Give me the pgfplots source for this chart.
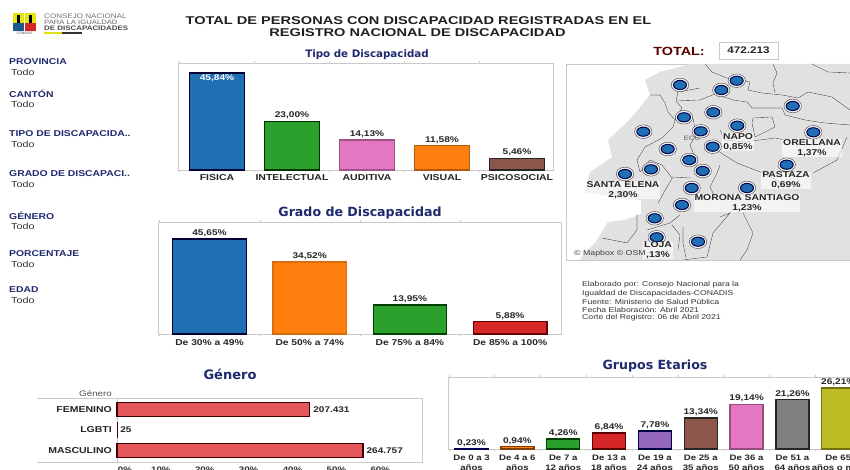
\documentclass[border=0pt]{standalone}
\usepackage{pgfplots}
\pgfplotsset{compat=1.18}
\usepackage{fontspec}
\setmainfont{Liberation Sans}
\newfontfamily\lab[FakeStretch=1.22]{Liberation Sans}
\newfontfamily\labw[FakeStretch=1.29]{Liberation Sans}
\newfontfamily\ttlf{DejaVu Sans}
\definecolor{navy}{HTML}{1F2A6E}
\definecolor{frameg}{HTML}{C9C9C9}
\definecolor{land}{HTML}{E1E1E1}
\definecolor{bord}{HTML}{5E5E5E}
\definecolor{cblue}{HTML}{1F6FB2}
\definecolor{cgreen}{HTML}{2CA02C}
\definecolor{cpink}{HTML}{E377C2}
\definecolor{corange}{HTML}{FF7F0E}
\definecolor{cbrown}{HTML}{8C564B}
\definecolor{cred}{HTML}{D62728}
\definecolor{cpurple}{HTML}{9467BD}
\definecolor{cgray}{HTML}{7F7F7F}
\definecolor{colive}{HTML}{BCBD22}
\definecolor{ebar}{HTML}{E4585C}
\newcommand\bl[1]{\addplot[white,line width=1.3pt,no marks] coordinates {#1};\addplot[bord,line width=.6pt,no marks] coordinates {#1};}
\pgfplotsset{
  panel/.style={scale only axis, anchor=south west, ymin=0, clip=false,
    ybar, bar shift=0pt,
    axis line style={draw=frameg,line width=.8pt},
    major tick length=0pt, minor tick length=2pt, tick align=outside,
    minor tick style={draw=frameg},
    xticklabel style={font=\lab\bfseries\fontsize{8.6}{10}\selectfont,text=black!85,yshift=-1pt},
    ytick=\empty,
    nodes near coords={\pgfmathprintnumber{\pgfplotspointmeta}\%},
    every node near coord/.append style={font=\lab\bfseries\fontsize{8.3}{9}\selectfont,text=black!85,
      /pgf/number format/assume math mode=true,
      /pgf/number format/fixed,/pgf/number format/fixed zerofill,/pgf/number format/precision=2,
      /pgf/number format/use comma,inner sep=1.5pt},
  },
  bd/.style n args={2}{fill=#1,draw=#2,line width=1.3pt},
}
\begin{document}
\begin{tikzpicture}[x=1pt,y=1pt]
\useasboundingbox (0,0) rectangle (850,470);
\fill[white] (0,0) rectangle (850,470);

\begin{scope}[y=-1pt,yshift=470pt]
% ---------- logo
\fill[colive!40!yellow] (13,13) rectangle (24,23);
\fill[colive!40!yellow] (25,13) rectangle (36,23);
\fill[black] (17,15) rectangle (20,23);
\fill[black] (29,15) rectangle (32,23);
\fill[cblue!80!black] (13,23) rectangle (24,31);
\fill[cred] (25,23) rectangle (36,31);
\node[font=\fontsize{3.5}{4}\selectfont,text=black!70] at (24.5,33) {CONADIS};
\node[anchor=west,inner sep=0,font=\lab\fontsize{6.6}{7}\selectfont,text=black!55] at (44,16) {CONSEJO NACIONAL};
\node[anchor=west,inner sep=0,font=\lab\fontsize{6.3}{7}\selectfont,text=black!60] at (44,22) {PARA LA IGUALDAD};
\node[anchor=west,inner sep=0,font=\lab\bfseries\fontsize{6.5}{7}\selectfont,text=black!70] at (44,28.5) {DE DISCAPACIDADES};
\fill[colive!50!yellow] (44,32.5) rectangle (62,34);
\fill[black!80] (62,32.5) rectangle (82,34);

% ---------- title
\node[font=\labw\bfseries\fontsize{11.3}{12}\selectfont,text=black!88] at (418.5,20.5) {TOTAL DE PERSONAS CON DISCAPACIDAD REGISTRADAS EN EL};
\node[font=\labw\bfseries\fontsize{11.3}{12}\selectfont,text=black!88] at (417.5,33) {REGISTRO NACIONAL DE DISCAPACIDAD};

% ---------- filters
\newcommand\flt[3]{%
  \node[anchor=west,inner sep=0,font=\lab\bfseries\fontsize{8.5}{9}\selectfont,text=navy] at (9,#2) {#1};
  \node[anchor=west,inner sep=0,font=\lab\fontsize{8.8}{9}\selectfont,text=black!80] at (11,#3) {Todo};}
\flt{PROVINCIA}{62}{72.5}
\flt{CANT\'ON}{94}{104.5}
\flt{TIPO DE DISCAPACIDA..}{134}{144}
\flt{GRADO DE DISCAPACI..}{174}{184}
\flt{G\'ENERO}{216}{226}
\flt{PORCENTAJE}{254}{264}
\flt{EDAD}{290}{300}

% ---------- section titles
\node[font=\ttlf\bfseries\fontsize{10.3}{11}\selectfont,text=navy] at (367,55) {Tipo de Discapacidad};
\node[font=\ttlf\bfseries\fontsize{12.6}{13}\selectfont,text=navy] at (360,213) {Grado de Discapacidad};
\node[font=\ttlf\bfseries\fontsize{13}{13}\selectfont,text=navy] at (230,374) {G\'enero};
\node[font=\ttlf\bfseries\fontsize{12.6}{13}\selectfont,text=navy] at (655,366) {Grupos Etarios};

\draw[frameg,line width=.8pt] (37,398) -- (117,398) (37,462) -- (117,462);
\node[anchor=east,inner sep=0,font=\lab\fontsize{8}{9}\selectfont,text=black!70] at (112,394) {G\'enero};

% ---------- total
\node[font=\lab\bfseries\fontsize{11.8}{12}\selectfont,text=black!65!red] at (679,51) {TOTAL:};
\node[draw=frameg,line width=.8pt,minimum width=59pt,minimum height=17pt,inner sep=0,font=\lab\bfseries\fontsize{9.6}{9}\selectfont,text=black!85] at (748.5,50.5) {472.213};

% ---------- notes
\newcommand\nt[2]{\node[anchor=west,inner sep=0,font=\lab\fontsize{7.1}{8}\selectfont,text=black!80] at (582,#2) {#1};}
\nt{Elaborado por: Consejo Nacional para la}{285}
\nt{Igualdad de Discapacidades-CONADIS}{293.2}
\nt{Fuente: Ministerio de Salud P\'ublica}{301.5}
\nt{Fecha Elaboraci\'on: Abril 2021}{309.7}
\nt{Corte del Registro: 06 de Abril 2021}{318}
\end{scope}

% ---------- Tipo de Discapacidad
\begin{axis}[panel, at={(178pt,300pt)}, width=375pt, height=107pt,
  bar width=55pt, xmin=-0.52, xmax=4.48, ymax=50.5,
  xtick={0,1,2,3,4}, minor xtick={-0.5,0.5,1.5,2.5,3.5},
  xticklabels={FISICA,INTELECTUAL,AUDITIVA,VISUAL,PSICOSOCIAL}]
\addplot[bd={cblue}{black!80!blue},nodes near coords align={below},every node near coord/.append style={text=white}] coordinates {(0,45.84)};
\addplot[bd={cgreen}{black!80!green}] coordinates {(1,23.00)};
\addplot[bd={cpink}{cpink!70!black}] coordinates {(2,14.13)};
\addplot[bd={corange}{corange!70!black}] coordinates {(3,11.58)};
\addplot[bd={cbrown}{black!85}] coordinates {(4,5.46)};
\end{axis}

% ---------- Grado de Discapacidad
\begin{axis}[panel, at={(158pt,136pt)}, width=403pt, height=112pt,
  bar width=73.5pt, xmin=-0.514, xmax=3.508, ymax=53.8,
  xtick={0,1,2,3}, minor xtick={-0.5,0.5,1.5,2.5},
  xticklabels={De 30\% a 49\%,De 50\% a 74\%,De 75\% a 84\%,De 85\% a 100\%},
  xticklabel style={font=\lab\bfseries\fontsize{8.4}{10}\selectfont,yshift=-1pt}]
\addplot[bd={cblue}{black!80!blue}] coordinates {(0,45.65)};
\addplot[bd={corange}{corange!85!black}] coordinates {(1,34.52)};
\addplot[bd={cgreen}{black!75!green}] coordinates {(2,13.95)};
\addplot[bd={cred}{black!60!red}] coordinates {(3,5.88)};
\end{axis}

% ---------- Genero
\begin{axis}[scale only axis, anchor=south west, at={(117pt,8pt)}, width=305pt, height=64pt,
  xbar, bar shift=0pt, bar width=14.5pt, clip=false,
  xmin=0, xmax=69.5, ymin=-0.56, ymax=2.56, y dir=reverse,
  axis line style={draw=frameg,line width=.8pt},
  major tick length=0pt,
  ytick={0,1,2}, yticklabels={FEMENINO,LGBTI,MASCULINO},
  yticklabel style={font=\lab\bfseries\fontsize{8.6}{9}\selectfont,text=black!85,inner xsep=5pt},
  xtick={0,10,20,30,40,50,60}, xticklabels={\hspace*{16pt}0\%,10\%,20\%,30\%,40\%,50\%,60\%},
  xticklabel style={font=\lab\bfseries\fontsize{8}{9}\selectfont,text=black!80,yshift=-1pt},
  point meta=explicit symbolic,
  nodes near coords={\pgfplotspointmeta},
  every node near coord/.append style={anchor=west,font=\lab\bfseries\fontsize{8.2}{9}\selectfont,text=black!85,inner sep=3pt}]
\addplot[fill=ebar,draw=black!75!red,line width=1.2pt] coordinates {(43.93,0) [207.431]};
\addplot[fill=ebar,draw=black!75!red,line width=.8pt] coordinates {(0.005,1) [25]};
\addplot[fill=ebar,draw=black!75!red,line width=1.2pt] coordinates {(56.07,2) [264.757]};
\end{axis}

% ---------- Grupos Etarios
\begin{axis}[panel, at={(448pt,21pt)}, width=408pt, height=72pt,
  bar width=33pt, xmin=-0.513, xmax=8.386, ymax=30.9,
  xtick={0,1,2,3,4,5,6,7,8}, minor xtick={-0.5,0.5,1.5,2.5,3.5,4.5,5.5,6.5,7.5},
  xticklabels={De 0 a 3\\a\~nos,De 4 a 6\\a\~nos,De 7 a\\12 a\~nos,De 13 a\\18 a\~nos,De 19 a\\24 a\~nos,De 25 a\\35 a\~nos,De 36 a\\50 a\~nos,De 51 a\\64 a\~nos,De 65\\a\~nos o m\'as},
  xticklabel style={font=\lab\bfseries\fontsize{7.9}{10}\selectfont,align=center,yshift=-1.5pt}]
\addplot[bd={cblue}{black!70!blue}] coordinates {(0,0.23)};
\addplot[bd={corange}{black!50!orange}] coordinates {(1,0.94)};
\addplot[bd={cgreen}{black!75!green}] coordinates {(2,4.26)};
\addplot[bd={cred}{black!65!red}] coordinates {(3,6.84)};
\addplot[bd={cpurple}{black!75!blue}] coordinates {(4,7.78)};
\addplot[bd={cbrown}{black!85}] coordinates {(5,13.34)};
\addplot[bd={cpink}{cpink!65!black}] coordinates {(6,19.14)};
\addplot[bd={cgray}{black!85}] coordinates {(7,21.26)};
\addplot[bd={colive}{colive!60!black}] coordinates {(8,26.21)};
\end{axis}

% ---------- map
\begin{axis}[scale only axis, anchor=south west, at={(566pt,210pt)}, width=284pt, height=196pt,
  xmin=566, xmax=850, ymin=64, ymax=260, y dir=reverse,
  axis line style={draw=frameg,line width=.9pt}, ticks=none, clip=true]
\addplot[fill=land,draw=none] coordinates {(690,64)(660,72)(645,80)(650,95)(632,117)(622,127)(608,140)(612,157)(590,172)(585,192)(620,198)(641,200)(641,214)(625,220)(608,222)(595,243)(585,252)(580,260)(850,260)(850,64)} --cycle;
\bl{(650,95)(660,95)(665,103)(668,112)(675,120)(673,127)(662,138)(645,147)(637,160)(640,172)}
\bl{(705,64)(712,72)(727,78)(745,81)(750,82)(748,90)(762,93)(782,95)(798,98)(808,92)(832,97)(850,110)}
\bl{(773,64)(777,73)(773,83)(775,93)}
\bl{(812,64)(828,72)(850,73)}
\bl{(676,101)(700,100)(715,94)(733,100)(747,102)(752,108)(782,108)(785,115)(805,120)(825,123)(850,125)}
\bl{(675,120)(682,108)(676,101)(678,92)(700,88)}
\bl{(752,123)(753,118)(772,117)(775,127)(755,137)(752,123)}
\bl{(720,130)(725,140)(745,142)(775,138)(785,140)}
\bl{(693,118)(696,135)(690,145)(694,155)}
\bl{(713,148)(737,163)(763,173)(785,185)}
\bl{(813,173)(837,160)(847,137)}
\bl{(720,165)(717,173)(710,187)(714,195)}
\bl{(743,213)(753,233)(747,250)(740,260)}
\bl{(720,217)(730,213)(713,233)(707,257)(683,260)}
\bl{(683,227)(683,243)(686,258)}
\bl{(658,203)(667,187)(673,177)(690,178)}
\bl{(637,215)(637,230)(627,243)(602,238)}
\bl{(647,230)(670,223)(680,215)}
\bl{(640,172)(650,160)(662,165)(672,178)}
\bl{(672,225)(680,235)(678,250)}
\node[font=\lab\bfseries\fontsize{6.5}{8}\selectfont,text=black!45] at (axis cs:692,138) {ECU};
\addplot[only marks,mark=*,mark size=6.8pt,mark options={xscale=1.28,fill=white,draw=none,opacity=.75}] coordinates {(680,85)(736.7,80.7)(721.3,90)(792.7,106)(713.3,112.3)(684,117.3)(643.3,131.7)(737.3,125.7)(700.7,131.3)(813.3,132.3)(712.7,146.7)(667.7,149)(689.3,160)(786.7,164.7)(702.7,171)(651,169.3)(625,174)(691.7,188)(747,188)(682,205)(654.7,218.3)(656.7,237.3)(698,241.7)};
\addplot[only marks,mark=*,mark size=4.6pt,mark options={xscale=1.42,fill=cblue,draw=black!70!blue,line width=1pt}] coordinates {(680,85)(736.7,80.7)(721.3,90)(792.7,106)(713.3,112.3)(684,117.3)(643.3,131.7)(737.3,125.7)(700.7,131.3)(813.3,132.3)(712.7,146.7)(667.7,149)(689.3,160)(786.7,164.7)(702.7,171)(651,169.3)(625,174)(691.7,188)(747,188)(682,205)(654.7,218.3)(656.7,237.3)(698,241.7)};
\end{axis}
% ---------- map labels
\begin{scope}[y=-1pt,yshift=470pt]
\tikzset{ml/.style={font=\lab\bfseries\fontsize{8.5}{9.7}\selectfont,text=black!85,align=center,inner xsep=1pt,inner ysep=0.5pt,fill=white,fill opacity=.6,text opacity=1}}
\node[ml] at (738,142) {NAPO\\0,85\%};
\node[ml] at (812,148) {ORELLANA\\1,37\%};
\node[ml] at (786,180.5) {PASTAZA\\0,69\%};
\node[ml] at (747,203) {MORONA SANTIAGO\\1,23\%};
\node[ml] at (623,190) {SANTA ELENA\\2,30\%};
\node[ml] at (658,250.5) {LOJA\\,13\%};
\node[anchor=west,inner sep=0,font=\lab\fontsize{7.2}{8}\selectfont,text=black!75] at (574,254) {\textcopyright\ Mapbox \textcopyright\ OSM};
\end{scope}
\end{tikzpicture}
\end{document}
